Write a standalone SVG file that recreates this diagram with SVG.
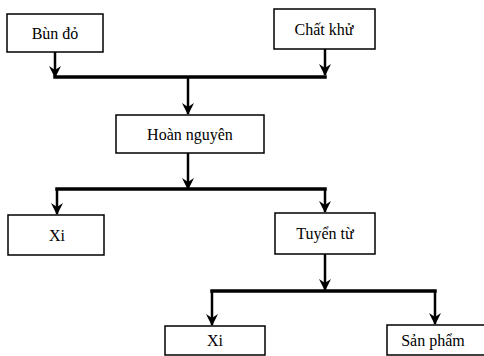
<svg xmlns="http://www.w3.org/2000/svg" width="484" height="356" viewBox="0 0 484 356">
<style>
.box{fill:#fff;stroke:#000;stroke-width:1.5}
.lbl{font-family:'Liberation Serif','Times New Roman',serif;font-size:16px;fill:#000;text-anchor:middle}
.ln{fill:none;stroke:#000;stroke-width:3.5;stroke-linecap:square}
.v{fill:none;stroke:#000;stroke-width:2.5}
</style>
<defs>
<marker id="ah" viewBox="0 0 12 12" refX="11" refY="6" markerWidth="12" markerHeight="12" markerUnits="userSpaceOnUse" orient="auto">
<path d="M0,0 L12,6 L0,12 L4,6 Z" fill="#000"/>
</marker>
</defs>
<rect width="484" height="356" fill="#fff"/>
<g id="connectors">
<path class="v" d="M55,52 V77" marker-end="url(#ah)"/>
<path class="v" d="M325,49 V75" marker-end="url(#ah)"/>
<path class="ln" d="M55,77 H325"/>
<path class="v" d="M188,77 V114" marker-end="url(#ah)"/>
<path class="v" d="M188,153 V189" marker-end="url(#ah)"/>
<path class="ln" d="M57,189 H325"/>
<path class="v" d="M57,189 V214" marker-end="url(#ah)"/>
<path class="v" d="M325,189 V212" marker-end="url(#ah)"/>
<path class="v" d="M325,254 V290" marker-end="url(#ah)"/>
<path class="ln" d="M212,291 H435"/>
<path class="v" d="M212,291 V325" marker-end="url(#ah)"/>
<path class="v" d="M435,291 V324" marker-end="url(#ah)"/>
</g>
<g id="bun-do"><rect class="box" x="7" y="14" width="96" height="38"/><text class="lbl" x="55" y="39">Bùn đỏ</text></g>
<g id="chat-khu"><rect class="box" x="274" y="9" width="101" height="40"/><text class="lbl" x="324" y="35">Chất khử</text></g>
<g id="hoan-nguyen"><rect class="box" x="116" y="115" width="148" height="38"/><text class="lbl" x="190" y="140">Hoàn nguyên</text></g>
<g id="xi1"><rect class="box" x="8" y="215" width="96" height="40"/><text class="lbl" x="57" y="241">Xi</text></g>
<g id="tuyen-tu"><rect class="box" x="275" y="213" width="100" height="41"/><text class="lbl" x="325" y="239">Tuyển từ</text></g>
<g id="xi2"><rect class="box" x="165" y="326" width="100" height="29"/><text class="lbl" x="215" y="346">Xi</text></g>
<g id="san-pham"><rect class="box" x="387" y="325" width="100" height="30"/><text class="lbl" x="433" y="346">Sản phẩm</text></g>
</svg>
